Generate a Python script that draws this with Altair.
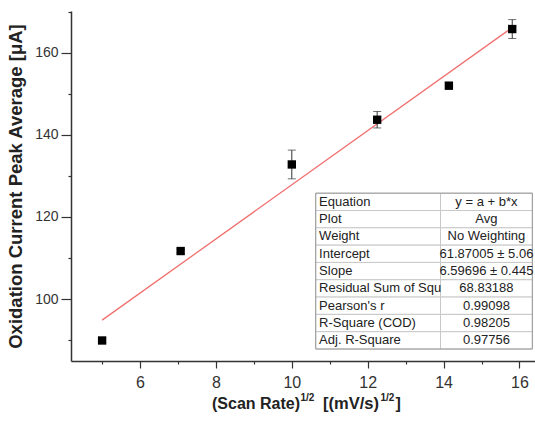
import altair as alt
import pandas as pd

# Peak current vs square root of scan rate
scan_root = [5.0, 7.07, 10.0, 12.25, 14.14, 15.81]
peak_avg = [89.9, 111.7, 132.8, 143.7, 152.0, 165.8]
peak_err = [0.5, 0.5, 3.5, 2.0, 0.8, 2.3]

# Linear fit results
fit_intercept = 61.87005
fit_slope = 6.59696
fit_range = [5.0, 15.81]

stat_names = ["Equation", "Plot", "Weight", "Intercept", "Slope",
              "Residual Sum of Squ", "Pearson's r", "R-Square (COD)", "Adj. R-Square"]
stat_values = ["y = a + b*x", "Avg", "No Weighting", "61.87005 \u00b1 5.06",
               "6.59696 \u00b1 0.445", "68.83188", "0.99098", "0.98205", "0.97756"]

FONT = "Liberation Sans"
AXIS_COLOR = "#333333"

x_scale = alt.Scale(domain=[4.18, 16.41], nice=False, zero=False)
y_scale = alt.Scale(domain=[84.9, 170.2], nice=False, zero=False)

pts = pd.DataFrame({
    "x": scan_root,
    "y": peak_avg,
    "lo": [v - e for v, e in zip(peak_avg, peak_err)],
    "hi": [v + e for v, e in zip(peak_avg, peak_err)],
})

fit = pd.DataFrame({
    "x": fit_range,
    "y": [fit_intercept + fit_slope * v for v in fit_range],
})

x_axis = alt.Axis(
    values=list(range(5, 17)),
    labelExpr="datum.value % 2 == 0 ? datum.label : ''",
    tickSize=alt.condition("datum.value % 2 == 0", alt.value(7), alt.value(3)),
    title=None, grid=False, domainColor=AXIS_COLOR, domainWidth=1.5,
    tickColor=AXIS_COLOR, tickWidth=1.2, labelFontSize=16, labelColor="#333333",
    labelPadding=6, labelOverlap=False,
)
y_axis = alt.Axis(
    values=list(range(90, 171, 10)),
    labelExpr="datum.value % 20 == 0 ? datum.label : ''",
    tickSize=alt.condition("datum.value % 20 == 0", alt.value(10), alt.value(3)),
    title="Oxidation Current Peak Average [\u03bcA]", titleFontSize=18.5,
    titleFontWeight="bold", titleColor="#222222", titlePadding=9,
    grid=False, domainColor=AXIS_COLOR, domainWidth=1.5,
    tickColor=AXIS_COLOR, tickWidth=1.2, labelFontSize=14, labelColor="#333333",
    labelPadding=3, labelOverlap=False,
)


def X(field):
    return alt.X(field, scale=x_scale, axis=x_axis)


def Y(field):
    return alt.Y(field, scale=y_scale, axis=y_axis)


base = alt.Chart(pts)

points = base.mark_point(shape="square", filled=True, size=70, color="black", opacity=1).encode(
    x=X("x:Q"), y=Y("y:Q"),
)

err_rule = base.mark_rule(color="#333333", strokeWidth=1).encode(
    x=X("x:Q"), y=Y("lo:Q"), y2="hi:Q",
)
cap_lo = base.mark_tick(orient="horizontal", size=8, thickness=1, color="#333333").encode(
    x=X("x:Q"), y=Y("lo:Q"),
)
cap_hi = base.mark_tick(orient="horizontal", size=8, thickness=1, color="#333333").encode(
    x=X("x:Q"), y=Y("hi:Q"),
)

fit_line = alt.Chart(fit).mark_line(color="#f07070", strokeWidth=1.3).encode(
    x=X("x:Q"), y=Y("y:Q"),
)

# Statistics table, laid out in the plot's own units
t_left, t_mid, t_right = 10.63, 13.92, 16.34
t_top, row_h = 125.8, 4.22
n_rows = len(stat_names)

cells = pd.DataFrame(
    [{"x": a, "x2": b, "y": t_top - i * row_h, "y2": t_top - (i + 1) * row_h}
     for i in range(n_rows) for a, b in [(t_left, t_mid), (t_mid, t_right)]]
)
cell_rects = alt.Chart(cells).mark_rect(fill="white", stroke="#c8c8c8", strokeWidth=1).encode(
    x=X("x:Q"), x2="x2:Q", y=Y("y:Q"), y2="y2:Q",
)
frame = pd.DataFrame([{"x": t_left, "x2": t_right, "y": t_top, "y2": t_top - n_rows * row_h}])
table_frame = alt.Chart(frame).mark_rect(fill=None, stroke="#9a9a9a", strokeWidth=1).encode(
    x=X("x:Q"), x2="x2:Q", y=Y("y:Q"), y2="y2:Q",
)

rows = pd.DataFrame({
    "name": stat_names,
    "value": stat_values,
    "y": [t_top - (i + 0.5) * row_h for i in range(n_rows)],
    "xl": [t_left + 0.09] * n_rows,
    "xr": [(t_mid + t_right) / 2] * n_rows,
})
name_text = alt.Chart(rows).mark_text(align="left", baseline="middle", fontSize=13,
                                      font=FONT, color="#222222").encode(
    x=X("xl:Q"), y=Y("y:Q"), text="name:N",
)
value_text = alt.Chart(rows).mark_text(align="center", baseline="middle", fontSize=13,
                                       font=FONT, color="#222222").encode(
    x=X("xr:Q"), y=Y("y:Q"), text="value:N",
)

# X-axis title with superscripts, set as separate text pieces
title_src = pd.DataFrame({"k": [0]})


def title_piece(text, px, py, size):
    return alt.Chart(title_src).mark_text(
        align="left", baseline="alphabetic", fontSize=size, fontWeight="bold",
        font=FONT, color="#222222",
    ).encode(x=alt.value(px), y=alt.value(py), text=alt.value(text))


x_title = (
    title_piece("(Scan Rate)", 141, 397.5, 16)
    + title_piece("1/2", 229.5, 390, 10)
    + title_piece("[(mV/s)", 252, 397.5, 16.5)
    + title_piece("1/2", 309.5, 390, 10)
    + title_piece("]", 324.5, 397.5, 16)
)

chart = alt.layer(
    fit_line, err_rule, cap_lo, cap_hi, points,
    cell_rects, table_frame, name_text, value_text, x_title,
).properties(
    width=464, height=350,
    autosize=alt.AutoSizeParams(type="none"),
    padding={"left": 71, "top": 11, "right": 0, "bottom": 60},
).configure(
    font=FONT, background="white", view=alt.ViewConfig(stroke=None),
)

chart.save("out.html", embed_options={"renderer": "svg", "actions": False})
